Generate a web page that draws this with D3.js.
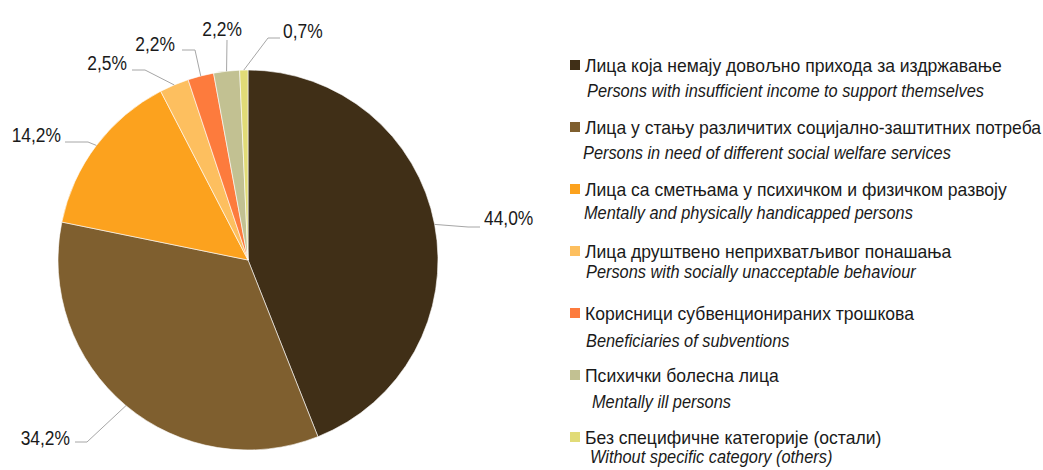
<!DOCTYPE html>
<html>
<head>
<meta charset="utf-8">
<script src="https://d3js.org/d3.v7.min.js"></script>
<style>
  body { margin: 0; background: #fff; }
  text { font-family: "Liberation Sans", Arial, sans-serif; fill: #1a1a1a; }
</style>
</head>
<body>
<script>
// data
var labelsSr = [
  "Лица која немају довољно прихода за издржавање",
  "Лица у стању различитих социјално-заштитних потреба",
  "Лица са сметњама у психичком и физичком развоју",
  "Лица друштвено неприхватљивог понашања",
  "Корисници субвенционираних трошкова",
  "Психички болесна лица",
  "Без специфичне категорије (остали)"
];
var labelsEn = [
  "Persons with insufficient income to support themselves",
  "Persons in need of different social welfare services",
  "Mentally and physically handicapped persons",
  "Persons with socially unacceptable behaviour",
  "Beneficiaries of subventions",
  "Mentally ill persons",
  "Without specific category (others)"
];
var values = [44.0, 34.2, 14.2, 2.5, 2.2, 2.2, 0.7];
var colors = ["#402f17", "#7f5f2f", "#fca21e", "#fdbf5f", "#fd7b3d", "#c2c192", "#e1db77"];

// layout of the data labels (text anchor point, elbow of leader line)
var labelPos = [
  {tx: 484, ty: 225, anchor: "start", ex: 468, ey: 227, hx: 480},
  {tx: 70,  ty: 445, anchor: "end",   ex: 87,  ey: 442, hx: 75},
  {tx: 61,  ty: 142, anchor: "end",   ex: 88,  ey: 142, hx: 65},
  {tx: 127, ty: 70,  anchor: "end",   ex: 145, ey: 70,  hx: 132},
  {tx: 175, ty: 51,  anchor: "end",   ex: 195, ey: 50,  hx: 182},
  {tx: 242, ty: 36,  anchor: "end",   ex: 227, ey: 40,  hx: 227},
  {tx: 283, ty: 38,  anchor: "start", ex: 268, ey: 38,  hx: 280}
];
var enOffset = [{dx: 17, dy: 25}, {dx: 13, dy: 25}, {dx: 14, dy: 23}, {dx: 16, dy: 20},
                {dx: 16, dy: 27}, {dx: 22, dy: 26}, {dx: 20, dy: 19}];

var W = 1043, H = 470;
var cx = 248, cy = 260, R = 190;

// squeeze Liberation Sans to an Arial Narrow look
function condense(k) {
  return function(sel) {
    sel.each(function() {
      var w = this.getComputedTextLength();
      d3.select(this).attr("textLength", w * k).attr("lengthAdjust", "spacingAndGlyphs");
    });
  };
}

var svg = d3.select("body").append("svg")
  .attr("width", W)
  .attr("height", H);

var pie = d3.pie().sort(null).value(function(d) { return d; });
var arcs = pie(values);
var arc = d3.arc().innerRadius(0).outerRadius(R);

var g = svg.append("g").attr("transform", "translate(" + cx + "," + cy + ")");

g.selectAll("path.slice")
  .data(arcs)
  .enter().append("path")
    .attr("class", "slice")
    .attr("d", arc)
    .style("fill", function(d, i) { return colors[i]; })
    .style("stroke", "#fff")
    .style("stroke-width", 0.6);

// leader lines
svg.selectAll("polyline.leader")
  .data(arcs)
  .enter().append("polyline")
    .attr("class", "leader")
    .attr("points", function(d, i) {
      var a = (d.startAngle + d.endAngle) / 2;
      var px = cx + R * Math.sin(a), py = cy - R * Math.cos(a);
      var p = labelPos[i];
      return [[px, py], [p.ex, p.ey], [p.hx, p.ey]].map(function(q) { return q.join(","); }).join(" ");
    })
    .style("fill", "none")
    .style("stroke", "#a6a6a6")
    .style("stroke-width", 1);

svg.selectAll("text.pct")
  .data(arcs)
  .enter().append("text")
    .attr("class", "pct")
    .attr("x", function(d, i) { return labelPos[i].tx; })
    .attr("y", function(d, i) { return labelPos[i].ty; })
    .attr("text-anchor", function(d, i) { return labelPos[i].anchor; })
    .style("font-size", "20px")
    .text(function(d) { return d3.format(".1f")(d.data).replace(".", ",") + "%"; })
    .call(condense(0.87));

// legend
var legend = svg.append("g").attr("transform", "translate(570,65)");
var items = legend.selectAll("g.item")
  .data(labelsSr)
  .enter().append("g")
    .attr("class", "item")
    .attr("transform", function(d, i) { return "translate(0," + (i * 62) + ")"; });

items.append("rect")
  .attr("x", 0).attr("y", -5)
  .attr("width", 10).attr("height", 10)
  .style("fill", function(d, i) { return colors[i]; });

items.append("text")
  .attr("x", 15).attr("y", 6.5)
  .style("font-size", "19px")
  .text(function(d) { return d; })
  .call(condense(0.924));

items.append("text")
  .attr("x", function(d, i) { return enOffset[i].dx; })
  .attr("y", function(d, i) { return enOffset[i].dy + 6.5; })
  .style("font-size", "19px")
  .style("font-style", "italic")
  .text(function(d, i) { return labelsEn[i]; })
  .call(condense(0.86));
</script>
</body>
</html>
